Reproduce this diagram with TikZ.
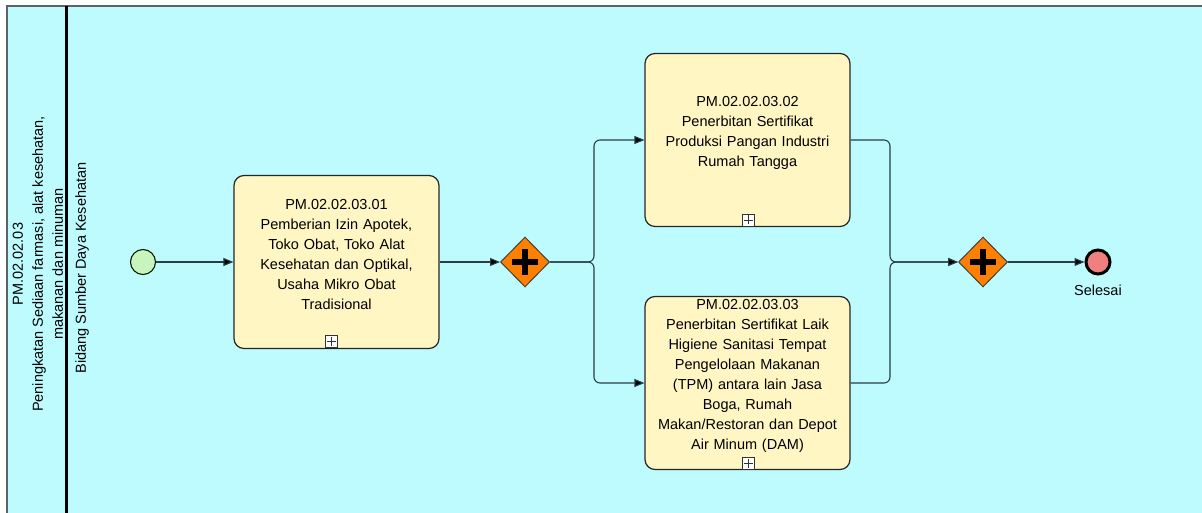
\documentclass[tikz,border=0pt]{standalone}
\usepackage{fontspec}
\setmainfont{Liberation Sans}
\usetikzlibrary{shapes.geometric,arrows.meta,calc}
\definecolor{poolbg}{RGB}{190,251,255}
\definecolor{taskfill}{RGB}{255,246,196}
\definecolor{gwfill}{RGB}{255,128,0}
\definecolor{startfill}{RGB}{200,245,190}
\definecolor{endfill}{RGB}{240,128,128}
\definecolor{flowcol}{RGB}{40,62,68}
\definecolor{pooledge}{RGB}{90,100,105}
\begin{document}
\begin{tikzpicture}[x=1pt,y=-1pt,
  txt/.style={font={\fontsize{14.5}{20}\selectfont}},
  task/.style={draw=black!85, line width=1.2pt, fill=taskfill, rounded corners=10pt,
    minimum width=205pt, minimum height=173pt, inner sep=0pt},
  tasktext/.style={txt, align=center, inner sep=0pt, text width=200pt},
  marker/.style={draw=black!80, line width=0.8pt, fill=white, minimum size=12pt, inner sep=0pt,
    path picture={\draw[line width=0.8pt] ([xshift=-4.5pt]path picture bounding box.center) -- ([xshift=4.5pt]path picture bounding box.center)
      ([yshift=-4.5pt]path picture bounding box.center) -- ([yshift=4.5pt]path picture bounding box.center);}},
  gateway/.style={diamond, draw=black!75, line width=1pt, fill=gwfill, minimum width=49pt, minimum height=50pt, inner sep=0pt,
    path picture={\draw[line width=6pt, black] ([xshift=-13pt]path picture bounding box.center) -- ([xshift=13pt]path picture bounding box.center)
      ([yshift=-13pt]path picture bounding box.center) -- ([yshift=13pt]path picture bounding box.center);}},
  startev/.style={circle, draw=black!70!green!40!black, line width=1.1pt, fill=startfill, minimum size=25pt, inner sep=0pt},
  endev/.style={circle, draw=black, line width=3pt, fill=endfill, minimum size=24pt, inner sep=0pt},
  flow/.style={draw=flowcol, line width=1.1pt, -{Triangle[length=10pt,width=8pt,fill=black]}, rounded corners=6pt},
]
\useasboundingbox (0,0) rectangle (1202,513);
% pool
\fill[poolbg] (7,6) rectangle (1202,513);
\draw[pooledge, line width=1.5pt] (7,513) -- (7,6) -- (1202,6);
\draw[black, line width=2.2pt] (66.5,6) -- (66.5,513);
\node[txt, rotate=90, align=center, inner sep=0pt] (pool) at (38,264)
  {PM.02.02.03\\Peningkatan Sediaan farmasi, alat kesehatan,\\makanan dan minuman};
\node[txt, rotate=90, inner sep=0pt] (lane) at (82,268) {Bidang Sumber Daya Kesehatan};

% events and gateways
\node[startev] (start) at (143,262) {};
\node[gateway] (g1) at (525,262) {};
\node[gateway] (g2) at (983,262) {};
\node[endev] (end) at (1098,262) {};
\node[txt, inner sep=0pt] (endlabel) at (1098,290) {Selesai};

% tasks
\node[task] (t1) at (336.5,262) {};
\node[tasktext] (t1text) at ([yshift=7pt]t1.center)
  {PM.02.02.03.01\\Pemberian Izin Apotek,\\Toko Obat, Toko Alat\\Kesehatan dan Optikal,\\Usaha Mikro Obat\\Tradisional};
\node[marker] (m1) at (331,341) {};

\node[task] (t2) at (747.5,140) {};
\node[tasktext] (t2text) at ([yshift=7pt]t2.center)
  {PM.02.02.03.02\\Penerbitan Sertifikat\\Produksi Pangan Industri\\Rumah Tangga};
\node[marker] (m2) at (748,220) {};

\node[task] (t3) at (747.5,383) {};
\node[tasktext] (t3text) at ([yshift=7pt]t3.center)
  {PM.02.02.03.03\\Penerbitan Sertifikat Laik\\Higiene Sanitasi Tempat\\Pengelolaan Makanan\\(TPM) antara lain Jasa\\Boga, Rumah\\Makan/Restoran dan Depot\\Air Minum (DAM)};
\node[marker] (m3) at (748,463) {};

% junctions
\coordinate (j1) at (594,262);
\coordinate (j2) at (890,262);

% flows
\draw[flow] (start.east) -- (t1.west);
\draw[flow] (t1.east) -- (g1.west);
\draw[flow] (g1.east) -- (j1) |- (t2.west);
\draw[flow] (g1.east) -- (j1) |- (t3.west);
\draw[flow] (t2.east) -| (j2) -- (g2.west);
\draw[flow] (t3.east) -| (j2) -- (g2.west);
\draw[flow] (g2.east) -- (end.west);
\end{tikzpicture}
\end{document}
